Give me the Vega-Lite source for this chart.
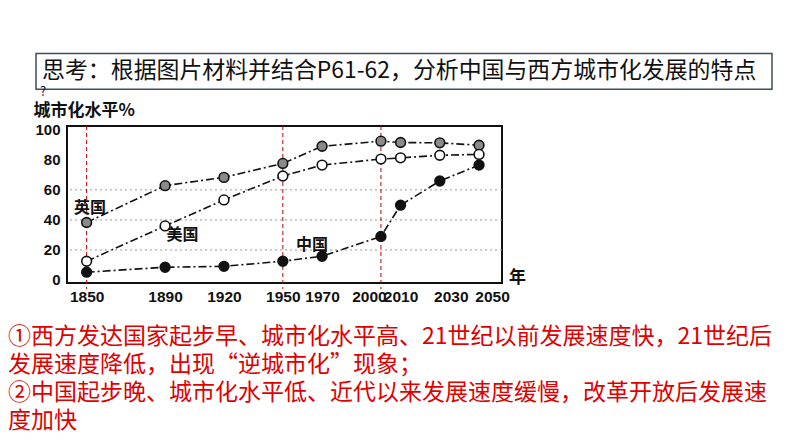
{
  "$schema": "https://vega.github.io/schema/vega-lite/v6.json",
  "width": 435,
  "height": 157,
  "autosize": {"type": "none"},
  "padding": {"left": 67, "top": 126, "right": 292, "bottom": 164},
  "background": "white",
  "config": {
    "view": {"stroke": "#111111", "strokeWidth": 2},
    "axis": {"labelFont": "Liberation Sans", "titleFont": "Noto Sans CJK SC", "labelColor": "#111111", "titleColor": "#111111"}
  },
  "datasets": {
    "urban": [
      {"country": "英国", "year": 1850, "value": 38.3},
      {"country": "英国", "year": 1890, "value": 62.8},
      {"country": "英国", "year": 1920, "value": 68.3},
      {"country": "英国", "year": 1950, "value": 77.6},
      {"country": "英国", "year": 1970, "value": 89.0},
      {"country": "英国", "year": 2000, "value": 92.4},
      {"country": "英国", "year": 2010, "value": 91.5},
      {"country": "英国", "year": 2030, "value": 91.3},
      {"country": "英国", "year": 2050, "value": 89.7},
      {"country": "美国", "year": 1850, "value": 12.5},
      {"country": "美国", "year": 1890, "value": 36.0},
      {"country": "美国", "year": 1920, "value": 53.3},
      {"country": "美国", "year": 1950, "value": 69.2},
      {"country": "美国", "year": 1970, "value": 76.5},
      {"country": "美国", "year": 2000, "value": 80.5},
      {"country": "美国", "year": 2010, "value": 81.3},
      {"country": "美国", "year": 2030, "value": 83.0},
      {"country": "美国", "year": 2050, "value": 83.6},
      {"country": "中国", "year": 1850, "value": 5.2},
      {"country": "中国", "year": 1890, "value": 8.5},
      {"country": "中国", "year": 1920, "value": 9.1},
      {"country": "中国", "year": 1950, "value": 12.5},
      {"country": "中国", "year": 1970, "value": 15.8},
      {"country": "中国", "year": 2000, "value": 29.0},
      {"country": "中国", "year": 2010, "value": 49.8},
      {"country": "中国", "year": 2030, "value": 65.9},
      {"country": "中国", "year": 2050, "value": 76.5}
    ],
    "grid": [{"value": 20}, {"value": 40}, {"value": 60}],
    "markers": [{"year": 1850}, {"year": 1950}, {"year": 2000}],
    "labels": [
      {"label": "英国", "year": 1851.7, "value": 47.8},
      {"label": "美国", "year": 1898.9, "value": 29.9},
      {"label": "中国", "year": 1964.9, "value": 23.2}
    ]
  },
  "layer": [
    {
      "data": {"name": "urban"},
      "mark": {"type": "line", "stroke": "#111111", "strokeWidth": 1.6, "strokeDash": [8, 3, 2, 3]},
      "encoding": {
        "x": {
          "field": "year", "type": "quantitative",
          "scale": {"domain": [1840, 2061.7], "nice": false, "zero": false},
          "axis": {
            "values": [1850, 1890, 1920, 1950, 1970, 2000, 2010, 2030, 2050],
            "tickCount": 20,
            "format": "d", "labelFontSize": 15.5, "labelFontWeight": "bold",
            "labelPadding": 6, "ticks": false, "domain": false, "grid": false,
            "labelOverlap": false, "labelFlush": false,
            "labelOffset": {
              "condition": [
                {"test": "datum.value == 2000", "value": -12},
                {"test": "datum.value == 2030", "value": 11},
                {"test": "datum.value == 2050", "value": 13}
              ],
              "value": 0
            },
            "title": "年", "titleFontSize": 17, "titleFontWeight": "bold",
            "titleX": 450, "titleY": -6, "titleAlign": "center", "titleBaseline": "middle"
          }
        },
        "y": {
          "field": "value", "type": "quantitative",
          "scale": {"domain": [-2, 102.5], "nice": false, "zero": false},
          "axis": {
            "values": [0, 20, 40, 60, 80, 100],
            "tickCount": 10,
            "labelFontSize": 15, "labelFontWeight": "bold", "labelPadding": 7,
            "labelOverlap": false, "labelFlush": false,
            "ticks": false, "domain": false, "grid": false,
            "title": "城市化水平%", "titleFontSize": 17, "titleFontWeight": "bold",
            "titleAngle": 0, "titleX": -34, "titleY": -16, "titleAlign": "left", "titleBaseline": "middle"
          }
        },
        "detail": {"field": "country"}
      }
    },
    {
      "data": {"name": "grid"},
      "mark": {"type": "rule", "stroke": "#9a9a9a", "strokeWidth": 1, "strokeDash": [2, 3]},
      "encoding": {
        "y": {"field": "value", "type": "quantitative"}
      }
    },
    {
      "data": {"name": "markers"},
      "mark": {"type": "rule", "stroke": "#c00000", "strokeWidth": 1, "strokeDash": [4, 3]},
      "encoding": {
        "x": {"field": "year", "type": "quantitative"},
        "y": {"datum": 102.5, "type": "quantitative"},
        "y2": {"datum": -6}
      }
    },
    {
      "data": {"name": "urban"},
      "mark": {"type": "circle", "size": 95, "stroke": "#111111", "strokeWidth": 1.6, "opacity": 1},
      "encoding": {
        "x": {"field": "year", "type": "quantitative"},
        "y": {"field": "value", "type": "quantitative"},
        "fill": {
          "field": "country", "type": "nominal",
          "scale": {"domain": ["英国", "美国", "中国"], "range": ["#8a8a8a", "#ffffff", "#111111"]},
          "legend": null
        }
      }
    },
    {
      "data": {"name": "labels"},
      "mark": {"type": "text", "font": "Noto Sans CJK SC", "fontSize": 16, "fontWeight": "bold", "color": "#111111"},
      "encoding": {
        "x": {"field": "year", "type": "quantitative"},
        "y": {"field": "value", "type": "quantitative"},
        "text": {"field": "label"}
      }
    },
    {
      "data": {"values": [{}]},
      "mark": {"type": "rect", "fill": "white", "stroke": "#3f4d5e", "strokeWidth": 1.5},
      "encoding": {
        "x": {"datum": 1824.2, "type": "quantitative"},
        "x2": {"datum": 2199.3},
        "y": {"datum": 150.8, "type": "quantitative"},
        "y2": {"datum": 126.9}
      }
    },
    {
      "data": {"values": [{}]},
      "mark": {"type": "text", "text": "思考：根据图片材料并结合P61-62，分析中国与西方城市化发展的特点", "font": "Noto Sans CJK SC", "fontSize": 22.9, "align": "left", "baseline": "middle", "color": "#111111"},
      "encoding": {
        "x": {"datum": 1827.3, "type": "quantitative"},
        "y": {"datum": 138.9, "type": "quantitative"}
      }
    },
    {
      "data": {"values": [{}]},
      "mark": {"type": "text", "text": "?", "font": "Noto Sans CJK SC", "fontSize": 13, "align": "left", "baseline": "middle", "color": "#111111"},
      "encoding": {
        "x": {"datum": 1826.2, "type": "quantitative"},
        "y": {"datum": 124.9, "type": "quantitative"}
      }
    },
    {
      "data": {"values": [{}]},
      "mark": {
        "type": "text",
        "text": ["①西方发达国家起步早、城市化水平高、21世纪以前发展速度快，21世纪后", "发展速度降低，出现“逆城市化”现象；", "②中国起步晚、城市化水平低、近代以来发展速度缓慢，改革开放后发展速", "度加快"],
        "font": "Noto Sans CJK SC", "fontSize": 23, "lineHeight": 28, "align": "left", "baseline": "top", "color": "#e00000"
      },
      "encoding": {
        "x": {"datum": 1809.9, "type": "quantitative"},
        "y": {"datum": -30.9, "type": "quantitative"}
      }
    }
  ]
}
